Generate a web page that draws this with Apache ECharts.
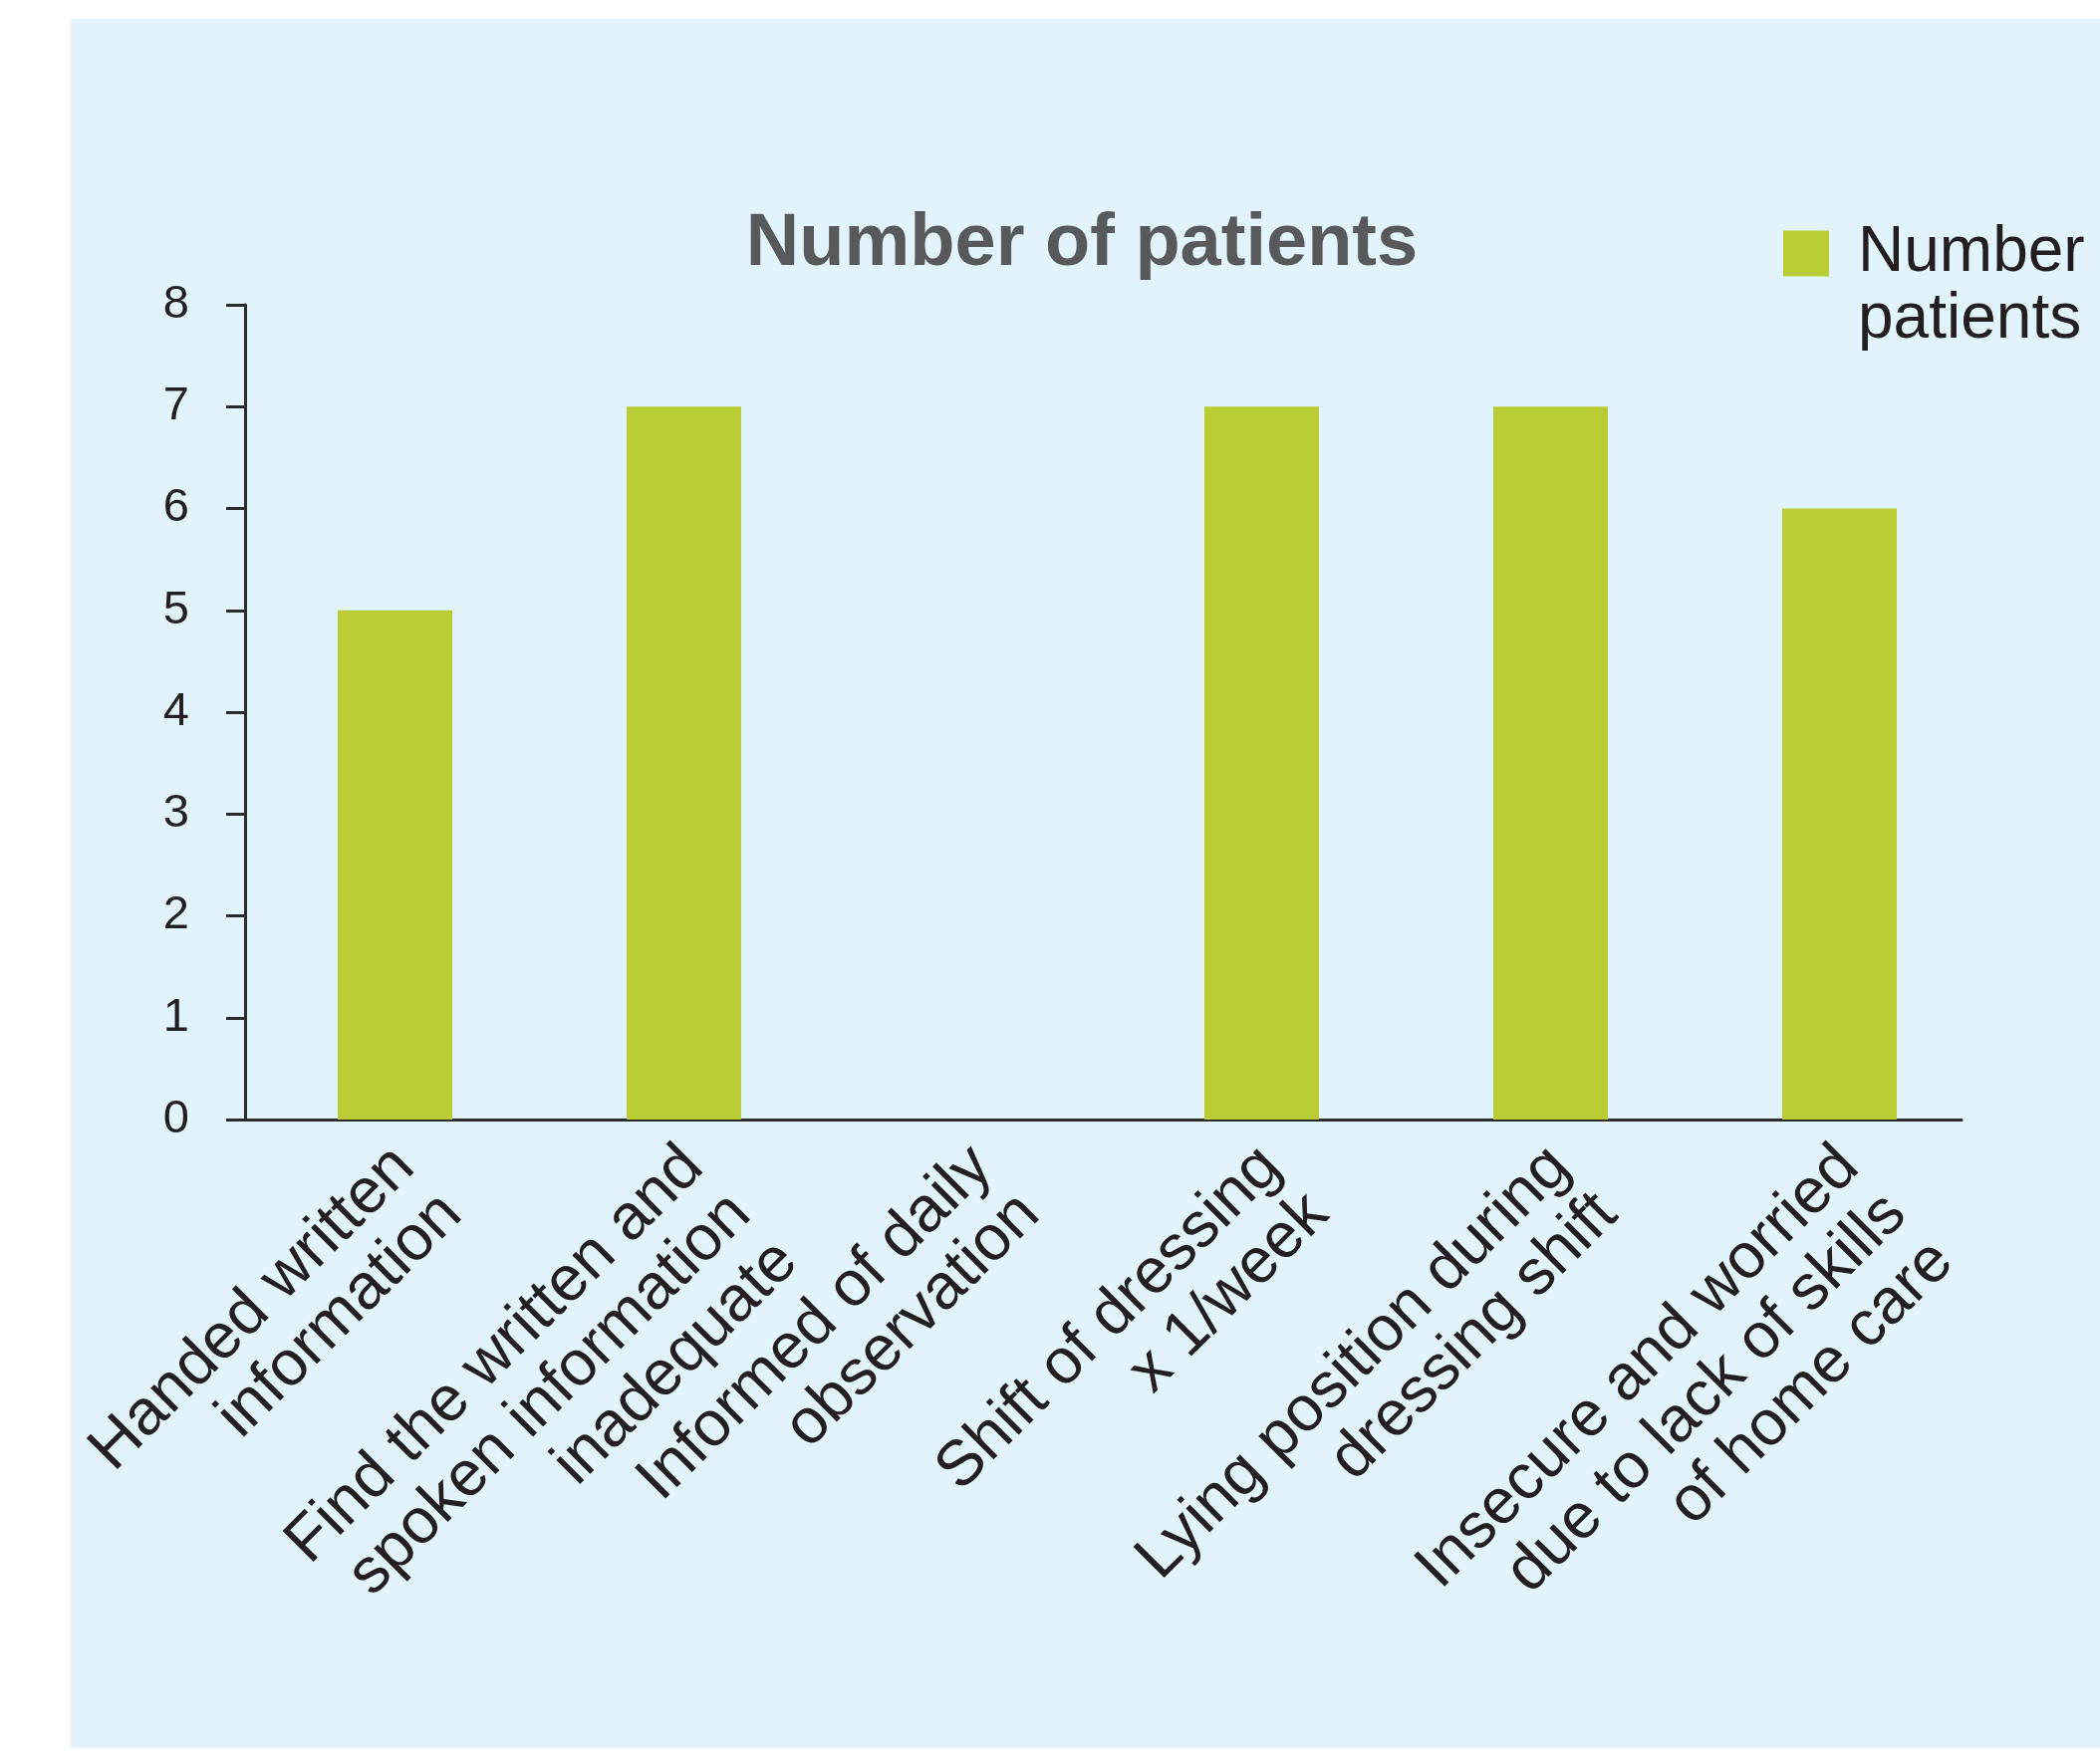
<!DOCTYPE html>
<html>
<head>
<meta charset="utf-8">
<script src="https://cdn.jsdelivr.net/npm/echarts@6/dist/echarts.min.js"></script>
<style>
html,body{margin:0;padding:0;background:#ffffff;}
#chart{width:2108px;height:1758px;}
</style>
</head>
<body>
<div id="chart"></div>
<script>
const categories = [
  'Handed written\ninformation',
  'Find the written and\nspoken information\ninadequate',
  'Informed of daily\nobservation',
  'Shift of dressing\nx 1/week',
  'Lying position during\ndressing shift',
  'Insecure and worried\ndue to lack of skills\nof home care'
];
const patientCounts = [5, 7, 0, 7, 7, 6];
const seriesName = 'Number of patients';
const legendLabel = ' \nNumber of\npatients';
const titleText = 'Number of patients';
const yMin = 0, yMax = 8, yStep = 1;

const textColor = '#231f20';
const font = '"Liberation Sans", Arial, sans-serif';
const chart = echarts.init(document.getElementById('chart'), null, {renderer: 'canvas'});
chart.setOption({
  backgroundColor: '#ffffff',
  animation: false,
  graphic: [{
    type: 'rect', z: -10, silent: true,
    shape: {x: 71, y: 19, width: 2037, height: 1736},
    style: {fill: '#e2f3fb'}
  }],
  title: {
    text: titleText,
    left: 1081, top: 204, textAlign: 'center',
    textStyle: {fontFamily: font, fontWeight: 'bold', fontSize: 74, color: '#58595b'}
  },
  legend: {
    data: [seriesName],
    left: 1790, top: 154, padding: 0,
    itemWidth: 46, itemHeight: 46,
    icon: 'rect',
    formatter: function(){ return legendLabel; },
    textStyle: {fontFamily: font, fontSize: 64, lineHeight: 67, color: textColor, padding: [0, 0, 0, 24]}
  },
  grid: [
    {left: 246, right: 139, top: 306, bottom: 634},
    {left: 251.5, right: 116.5, top: 306, bottom: 634}
  ],
  xAxis: [
    {
      type: 'category', gridIndex: 0, data: categories,
      axisLine: {show: true, lineStyle: {color: '#2b2b2b', width: 3}},
      axisTick: {show: false}, axisLabel: {show: false}, splitLine: {show: false}
    },
    {
      type: 'category', gridIndex: 1, data: categories,
      axisLine: {show: false}, axisTick: {show: false}, splitLine: {show: false},
      axisLabel: {
        interval: 0, rotate: 45, margin: 0, align: 'right', verticalAlign: 'top',
        padding: [0, 20, 0, 0],
        fontFamily: font, fontSize: 64, lineHeight: 67, color: textColor
      }
    }
  ],
  yAxis: [
    {
      type: 'value', gridIndex: 0, min: yMin, max: yMax, interval: yStep,
      axisLine: {show: true, lineStyle: {color: '#2b2b2b', width: 3}},
      axisTick: {show: true, length: 19, lineStyle: {color: '#2b2b2b', width: 3}},
      splitLine: {show: false},
      axisLabel: {margin: 56, fontFamily: font, fontSize: 47, color: textColor}
    },
    {
      type: 'value', gridIndex: 1, min: yMin, max: yMax, interval: yStep, show: false,
      splitLine: {show: false}
    }
  ],
  series: [{
    name: seriesName, type: 'bar', xAxisIndex: 1, yAxisIndex: 1,
    data: patientCounts, barWidth: 115,
    itemStyle: {color: '#b9cc34'}
  }]
});
</script>
</body>
</html>
